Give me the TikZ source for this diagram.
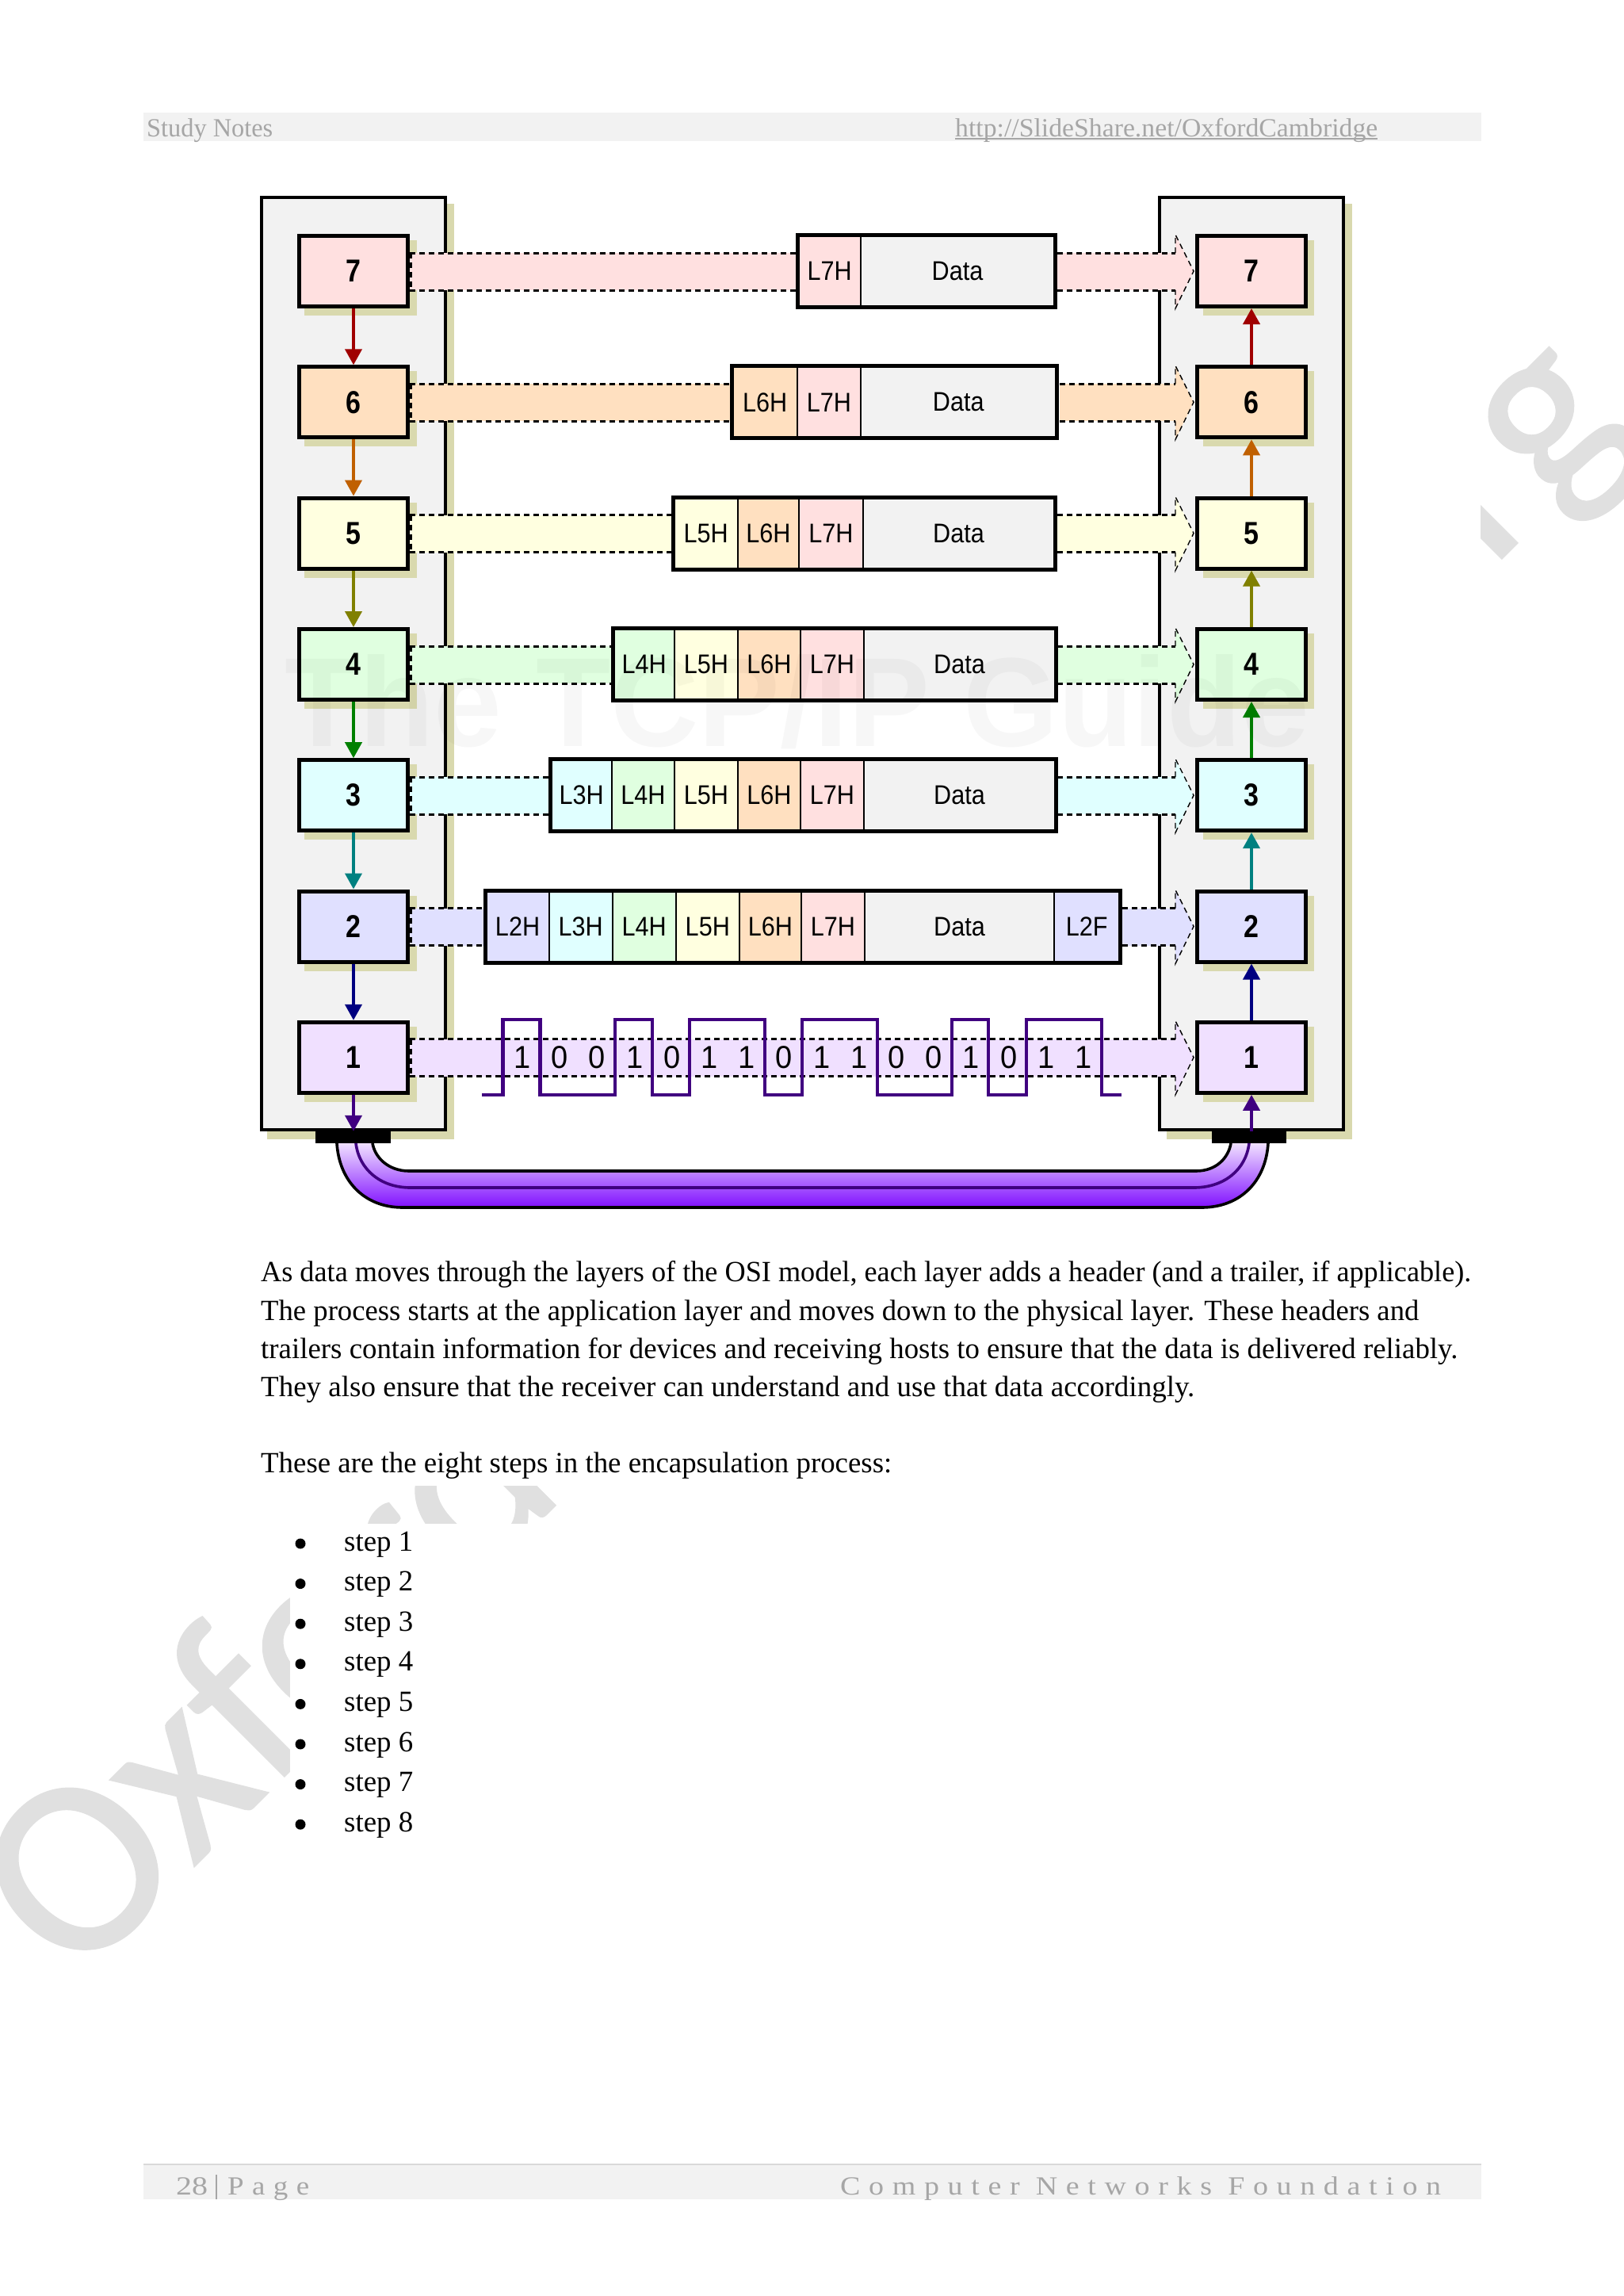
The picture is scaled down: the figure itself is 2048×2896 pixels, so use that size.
\documentclass[tikz,border=0pt]{standalone}
\usepackage{graphicx}
\usepackage{fontspec}
\usetikzlibrary{arrows.meta}
\setmainfont{Liberation Serif}
\setsansfont{Liberation Sans}
\newfontfamily\wmfont[FakeBold=0.8]{Carlito}
\newfontfamily\spacedfont[LetterSpace=28]{Liberation Serif}
\newcommand\fitw[2]{\resizebox{#1pt}{\height}{#2}}
\definecolor{lseven}{HTML}{FFE0E0}
\definecolor{lsix}{HTML}{FFE0C0}
\definecolor{lfive}{HTML}{FFFFE0}
\definecolor{lfour}{HTML}{E0FFE0}
\definecolor{lthree}{HTML}{E0FFFF}
\definecolor{ltwo}{HTML}{E0E0FF}
\definecolor{lone}{HTML}{F0E0FF}
\definecolor{ldata}{HTML}{F2F2F2}
\definecolor{shad}{HTML}{D9D9AE}
\definecolor{hdr}{HTML}{A6A6A6}
\definecolor{indigoline}{HTML}{400080}
\tikzset{
  page/.style={fill=white,draw=none},
  panelbox/.style={draw=black,line width=4.5pt,fill=ldata},
  shadowfill/.style={fill=shad,draw=none},
  layerbox/.style={draw=black,line width=5pt,minimum width=137pt,minimum height=89pt,inner sep=0pt,font=\sffamily\bfseries\fontsize{40}{40}\selectfont},
  cellbox/.style={draw=black,line width=2pt,minimum height=89pt,inner sep=0pt,font=\sffamily\fontsize{34}{34}\selectfont},
  pktframe/.style={draw=black,line width=5pt},
  dashline/.style={draw=black,line width=3pt,dash pattern=on 7pt off 5pt},
  headline/.style={draw=black,line width=1.4pt,dash pattern=on 7pt off 5pt},
  layerarrow/.style={line width=4pt,-{Triangle[width=21pt,length=20pt]}},
  bitlabel/.style={font=\sffamily\fontsize{40}{40}\selectfont,inner sep=0pt},
  wave/.style={draw=indigoline,line width=4.2pt,line join=miter},
  bodyline/.style={anchor=base west,inner sep=0pt,font=\fontsize{37}{37}\selectfont},
  hdrtext/.style={anchor=base west,inner sep=0pt,text=hdr,font=\fontsize{33}{33}\selectfont},
  bulletdot/.style={circle,fill=black,inner sep=0pt,minimum size=13pt}
}
\newcommand\narrow[1]{\scalebox{0.9}[1]{#1}}
% rectangle cell: name, x1, x2, y, colour, text
\newcommand\pcell[6]{\node[cellbox,fill=#5,minimum width={#3-#2}] (#1) at ({(#2+#3)/2},#4) {\narrow{#6}};}
% band: colour, y, xa, xb
\newcommand\bandfill[4]{\fill[#1] (#3,#2-23) rectangle (#4,#2+24);}
\newcommand\banddash[3]{\draw[dashline] (#2,#1-23) -- (#3,#1-23); \draw[dashline] (#2,#1+24) -- (#3,#1+24);}
% head: colour, y
\newcommand\arrowhead[2]{%
 \fill[#1] (1483,#2-46) -- (1506,#2) -- (1483,#2+47) -- cycle;
 \draw[headline] (1483,#2-23) -- (1483,#2-46) -- (1506,#2) -- (1483,#2+47) -- (1483,#2+24);}
\begin{document}
\begin{tikzpicture}[x=1pt,y=-1pt]
\useasboundingbox (0,0) rectangle (2048,2896);
\fill[white] (0,0) rectangle (2048,2896);
% large page watermark
\node[anchor=base west,inner sep=0pt,rotate=45,text=black!12,font=\wmfont\fontsize{318}{318}\selectfont] (wm) at (95,2504) {OxfordCambridge.org};
\fill[page] (366,1922) rectangle (1868,2896);
\fill[page] (240,190) rectangle (1868,1874);
% header and footer
\fill[ldata] (181,142) rectangle (1869,178);
\node[hdrtext] (study) at (185,172) {\fitw{159}{Study Notes}};
\node[hdrtext] (url) at (1205,172) {\fitw{533}{http://SlideShare.net/OxfordCambridge}};
\draw[hdr,line width=2.5pt] (url.base west) ++(0,3) -- ++(533,0);
\fill[ldata] (181,2730) rectangle (1869,2774);
\draw[black!15,line width=2pt] (181,2730) -- (1869,2730);
\node[hdrtext] (pnum) at (222,2768) {\fitw{40}{28}};
\draw[hdr,line width=1.5pt] (273,2743) -- (273,2774);
\node[hdrtext] (pword) at (287,2768) {\fitw{103}{\spacedfont Page}};
\node[hdrtext] (course) at (1060,2768) {\fitw{758}{\spacedfont Computer Networks Foundation}};
% panels
\fill[shadowfill] (337,257) rectangle (573,1437);
\fill[shadowfill] (1472,257) rectangle (1706,1437);
\draw[panelbox] (330,249) rectangle (562,1425);
\draw[panelbox] (1463,249) rectangle (1695,1425);
% layer box shadows
\foreach \yy in {342,507.3,672.6,838,1003.2,1168.5,1333.8}{
  \fill[shadowfill] (384,\yy-39) rectangle (526,\yy+56);
  \fill[shadowfill] (1518,\yy-39) rectangle (1658,\yy+56);
}
% bands
\bandfill{lseven}{342}{517}{1005} \bandfill{lseven}{342}{1334}{1483}
\bandfill{lsix}{507.3}{517}{922} \bandfill{lsix}{507.3}{1337}{1483}
\bandfill{lfive}{672.6}{517}{848} \bandfill{lfive}{672.6}{1334}{1483}
\bandfill{lfour}{838}{517}{772} \bandfill{lfour}{838}{1334}{1483}
\bandfill{lthree}{1003.2}{517}{693} \bandfill{lthree}{1003.2}{1334}{1483}
\bandfill{ltwo}{1168.5}{517}{611} \bandfill{ltwo}{1168.5}{1416}{1483}
\bandfill{lone}{1333.8}{517}{1483}
\arrowhead{lseven}{342} \arrowhead{lsix}{507.3} \arrowhead{lfive}{672.6} \arrowhead{lfour}{838} \arrowhead{lthree}{1003.2} \arrowhead{ltwo}{1168.5} \arrowhead{lone}{1333.8}
\banddash{342}{517}{1005} \banddash{342}{1334}{1483}
\banddash{507.3}{517}{922} \banddash{507.3}{1337}{1483}
\banddash{672.6}{517}{848} \banddash{672.6}{1334}{1483}
\banddash{838}{517}{772} \banddash{838}{1334}{1483}
\banddash{1003.2}{517}{693} \banddash{1003.2}{1334}{1483}
\banddash{1168.5}{517}{611} \banddash{1168.5}{1416}{1483}
\banddash{1333.8}{517}{1483}
% layer boxes
\foreach \nm/\yy/\cc in {7/342/lseven,6/507.3/lsix,5/672.6/lfive,4/838/lfour,3/1003.2/lthree,2/1168.5/ltwo,1/1333.8/lone}{
  \node[layerbox,fill=\cc] (b\nm) at (446,\yy) {\scalebox{0.85}[1]{\nm}};
  \node[layerbox,fill=\cc] (d\nm) at (1579,\yy) {\scalebox{0.85}[1]{\nm}};
  \draw[black,line width=2.6pt,dash pattern=on 7pt off 5pt] (518.5,\yy-23) -- (518.5,\yy+24);
}
% ports
\node[fill=black,draw=none,minimum width=95pt,minimum height=15pt,inner sep=0pt] (portL) at (445,1434.5) {};
\node[fill=black,draw=none,minimum width=94pt,minimum height=15pt,inner sep=0pt] (portR) at (1576,1434.5) {};
% cable
\shade[top color=lone,bottom color={rgb,255:red,128;green,16;blue,255}]
 (425,1442) .. controls (428,1490) and (460,1523) .. (508,1523) -- (1516,1523)
 .. controls (1565,1523) and (1597,1490) .. (1600,1442) -- (1553,1442)
 .. controls (1550,1460) and (1535,1477) .. (1509,1477) -- (516,1477)
 .. controls (490,1477) and (473,1460) .. (470,1442) -- cycle;
\draw[black,line width=3.6pt] (425,1442) .. controls (428,1490) and (460,1523) .. (508,1523) -- (1516,1523)
 .. controls (1565,1523) and (1597,1490) .. (1600,1442);
\draw[black,line width=3.6pt] (470,1442) .. controls (473,1460) and (490,1477) .. (516,1477) -- (1509,1477)
 .. controls (1535,1477) and (1550,1460) .. (1553,1442);
\draw[indigoline,line width=3.6pt] (449,1442) .. controls (453,1475) and (480,1498) .. (518,1498) -- (1506,1498)
 .. controls (1545,1498) and (1572,1475) .. (1576,1442);
% layer arrows
\draw[layerarrow,color={rgb,255:red,160;green,0;blue,0}] (b7) -- (b6);
\draw[layerarrow,color={rgb,255:red,192;green,96;blue,0}] (b6) -- (b5);
\draw[layerarrow,color={rgb,255:red,128;green,128;blue,0}] (b5) -- (b4);
\draw[layerarrow,color={rgb,255:red,0;green,128;blue,0}] (b4) -- (b3);
\draw[layerarrow,color={rgb,255:red,0;green,128;blue,128}] (b3) -- (b2);
\draw[layerarrow,color={rgb,255:red,0;green,0;blue,128}] (b2) -- (b1);
\draw[layerarrow,color=indigoline] (b1) -- (b1 |- portL.north);
\draw[layerarrow,color={rgb,255:red,160;green,0;blue,0}] (d6) -- (d7);
\draw[layerarrow,color={rgb,255:red,192;green,96;blue,0}] (d5) -- (d6);
\draw[layerarrow,color={rgb,255:red,128;green,128;blue,0}] (d4) -- (d5);
\draw[layerarrow,color={rgb,255:red,0;green,128;blue,0}] (d3) -- (d4);
\draw[layerarrow,color={rgb,255:red,0;green,128;blue,128}] (d2) -- (d3);
\draw[layerarrow,color={rgb,255:red,0;green,0;blue,128}] (d1) -- (d2);
\draw[layerarrow,color=indigoline] (d1 |- portR.north) -- (d1);
% packets
\pcell{p7a}{1007.5}{1086}{342}{lseven}{L7H}
\pcell{p7d}{1086}{1330}{342}{ldata}{Data}
\draw[pktframe] (p7a.south west) rectangle (p7d.north east);
\pcell{p6a}{924.5}{1006}{507.3}{lsix}{L6H}
\pcell{p6b}{1006}{1086}{507.3}{lseven}{L7H}
\pcell{p6d}{1086}{1332.5}{507.3}{ldata}{Data}
\draw[pktframe] (p6a.south west) rectangle (p6d.north east);
\pcell{p5a}{850.5}{931}{672.6}{lfive}{L5H}
\pcell{p5b}{931}{1008}{672.6}{lsix}{L6H}
\pcell{p5c}{1008}{1089}{672.6}{lseven}{L7H}
\pcell{p5d}{1089}{1330}{672.6}{ldata}{Data}
\draw[pktframe] (p5a.south west) rectangle (p5d.north east);
\pcell{p4a}{774.5}{851}{838}{lfour}{L4H}
\pcell{p4b}{851}{931}{838}{lfive}{L5H}
\pcell{p4c}{931}{1010}{838}{lsix}{L6H}
\pcell{p4e}{1010}{1090}{838}{lseven}{L7H}
\pcell{p4d}{1090}{1331}{838}{ldata}{Data}
\draw[pktframe] (p4a.south west) rectangle (p4d.north east);
\pcell{p3a}{695.5}{772}{1003.2}{lthree}{L3H}
\pcell{p3b}{772}{851}{1003.2}{lfour}{L4H}
\pcell{p3c}{851}{931}{1003.2}{lfive}{L5H}
\pcell{p3e}{931}{1010}{1003.2}{lsix}{L6H}
\pcell{p3f}{1010}{1090}{1003.2}{lseven}{L7H}
\pcell{p3d}{1090}{1331}{1003.2}{ldata}{Data}
\draw[pktframe] (p3a.south west) rectangle (p3d.north east);
\pcell{p2a}{613.5}{692.6}{1168.5}{ltwo}{L2H}
\pcell{p2b}{692.6}{772.6}{1168.5}{lthree}{L3H}
\pcell{p2c}{772.6}{852.6}{1168.5}{lfour}{L4H}
\pcell{p2e}{852.6}{933}{1168.5}{lfive}{L5H}
\pcell{p2f}{933}{1011}{1168.5}{lsix}{L6H}
\pcell{p2g}{1011}{1091}{1168.5}{lseven}{L7H}
\pcell{p2d}{1091}{1330}{1168.5}{ldata}{Data}
\pcell{p2t}{1330}{1412.5}{1168.5}{ltwo}{L2F}
\draw[pktframe] (p2a.south west) rectangle (p2t.north east);
% signal
\draw[wave] (608,1381) -- (634.5,1381) -- (634.5,1286) -- (681.5,1286) -- (681.5,1381) -- (776,1381) -- (776,1286) -- (823,1286) -- (823,1381) -- (870,1381) -- (870,1286) -- (964.6,1286) -- (964.6,1381) -- (1011.6,1381) -- (1011.6,1286) -- (1106.6,1286) -- (1106.6,1381) -- (1201,1381) -- (1201,1286) -- (1247,1286) -- (1247,1381) -- (1295,1381) -- (1295,1286) -- (1390,1286) -- (1390,1381) -- (1415,1381);
\foreach \bb [count=\ii from 0] in {1,0,0,1,0,1,1,0,1,1,0,0,1,0,1,1}{
  \node[bitlabel] (bit\ii) at ({659+47.2*\ii},1333.8) {\scalebox{0.95}[1]{\bb}};
}
% faint guide mark
\node[opacity=0.03,text=black,inner sep=0pt,anchor=base,font=\sffamily\bfseries\fontsize{160}{160}\selectfont] (guide) at (1006,941) {\fitw{1293}{The TCP/IP Guide}};
% body text
\node[bodyline] (l1) at (329,1616) {\fitw{1527}{As data moves through the layers of the OSI model, each layer adds a header (and a trailer, if applicable).}};
\node[bodyline] (l2) at (329,1665) {\fitw{1461}{The process starts at the application layer and moves down to the physical layer. These headers and}};
\node[bodyline] (l3) at (329,1713) {\fitw{1510}{trailers contain information for devices and receiving hosts to ensure that the data is delivered reliably.}};
\node[bodyline] (l4) at (329,1761) {\fitw{1178}{They also ensure that the receiver can understand and use that data accordingly.}};
\node[bodyline] (l5) at (329,1857) {\fitw{796}{These are the eight steps in the encapsulation process:}};
\foreach \ss in {1,...,8}{
  \node[bulletdot] (dot\ss) at (379,{1947+50.6*(\ss-1)}) {};
  \node[bodyline] (st\ss) at (434,{1956+50.6*(\ss-1)}) {\fitw{87}{step \ss}};
}
\end{tikzpicture}
\end{document}
